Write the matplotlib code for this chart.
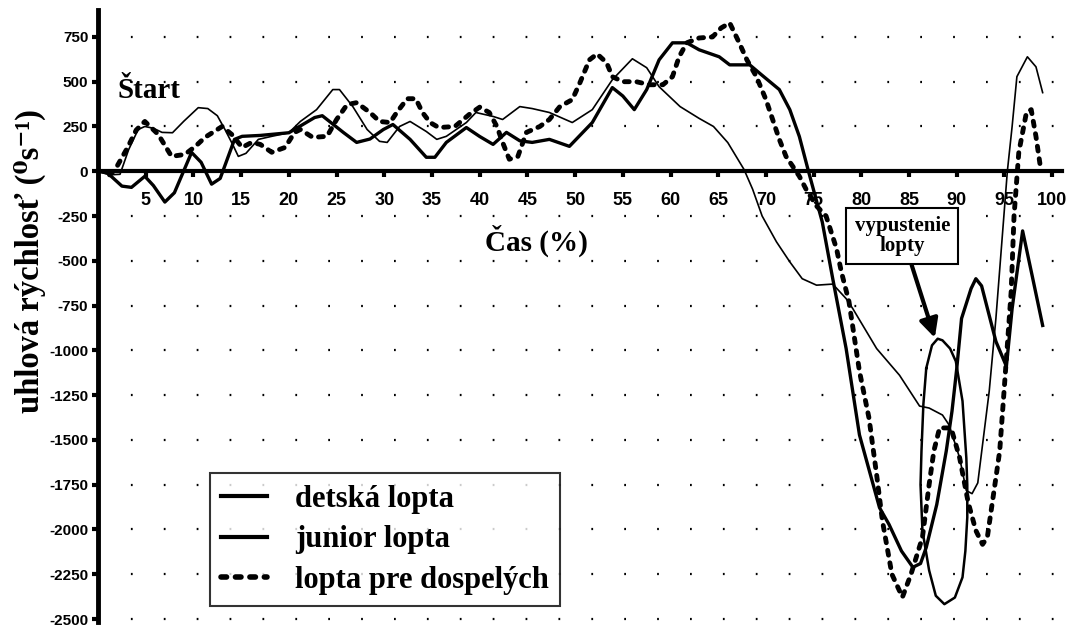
import matplotlib
matplotlib.use("Agg")
import matplotlib.pyplot as plt

# values
detska_x = [0, 1.2, 2.3, 3.2, 4.2, 4.9, 5.8, 6.7, 7.8, 9.0, 10.5, 11.5, 12.5, 13.3, 14.1, 14.7, 15.5, 16.8, 18.2, 20.0,
            21.2, 22.9, 24.6, 25.3, 26.7, 28.2, 29.5, 30.3, 31.6, 32.7, 34.4, 35.5, 36.5, 38.6, 39.6, 41.4, 42.4, 44.2,
            45.5, 47.3, 49.7, 51.8, 53.9, 56.0, 57.5, 58.8, 61.0, 63.0, 64.5, 66.0, 67.7, 68.6, 69.6, 71.1, 72.5, 73.8,
            75.3, 77.0, 78.4, 79.1, 81.6, 84.0, 86.1, 87.1, 88.5, 89.2, 90.3, 91.0, 91.6, 92.2, 93.4, 94.1, 95.3, 95.8,
            96.3, 97.4, 98.3, 99.0]
detska_y = [0, -20, -17, 120, 233, 250, 240, 217, 215, 280, 355, 350, 310, 233, 150, 83, 100, 178, 195, 215,
            278, 344, 456, 456, 361, 233, 167, 161, 250, 278, 222, 178, 195, 272, 328, 306, 289, 361,
            350, 328, 272, 344, 511, 628, 578, 472, 361, 295, 250, 160, 10, -100, -250, -394, -506, -600,
            -636, -630, -711, -767, -990, -1139, -1311, -1322, -1361, -1417, -1600, -1783, -1800, -1740, -1228, -822, 0, 250,
            528, 639, 583, 439]

junior_x = [0, 1.0, 2.5, 3.5, 4.9, 5.8, 7.0, 8.0, 9.8, 10.8, 11.9, 12.8, 14.3, 15.1, 17.0, 20.0, 22.7, 23.5, 25.7, 27.1,
            28.5, 29.9, 30.9, 32.7, 34.4, 35.3, 36.5, 38.6, 40.0, 41.4, 42.8, 44.2, 45.5, 47.3, 49.4, 51.8, 53.9, 55.0,
            56.2, 57.5, 58.8, 60.2, 61.7, 63.0, 65.1, 66.2, 68.3, 69.5, 71.4, 72.5, 73.5, 74.4, 75.9, 77.0, 78.4, 79.8,
            81.9, 82.9, 84.2, 85.4, 86.2, 86.8, 87.9, 88.9, 89.5, 90.0, 90.5, 91.5, 92.0, 92.6, 94.1, 95.2, 95.8, 96.9,
            97.9, 99.0]
junior_y = [0, -10, -83, -90, -28, -80, -172, -120, 105, 50, -72, -40, 178, 195, 200, 215, 300, 310, 217, 161,
            180, 233, 261, 178, 78, 78, 161, 244, 194, 150, 217, 170, 161, 178, 139, 272, 467, 420,
            344, 456, 622, 717, 717, 678, 639, 594, 594, 540, 456, 344, 194, 11, -283, -600, -989, -1472,
            -1878, -1972, -2120, -2211, -2190, -2100, -1861, -1561, -1339, -1100, -822, -655, -600, -640, -950, -1089, -767, -333,
            -583, -861]

dosp_x = [1.2, 1.8, 3.1, 4.0, 4.9, 6.3, 7.7, 9.1, 10.2, 11.2, 13.0, 14.0, 15.1, 16.1, 17.0, 18.2, 19.6, 20.6, 21.2, 22.5,
          24.0, 25.0, 26.1, 27.1, 28.5, 29.5, 30.6, 31.3, 32.4, 33.3, 34.0, 34.8, 35.7, 37.4, 38.9, 40.0, 41.0, 41.8,
          42.4, 43.1, 44.0, 44.9, 46.3, 47.3, 48.4, 49.7, 50.5, 51.5, 52.3, 53.3, 53.9, 55.0, 56.4, 57.8, 59.2, 60.2,
          60.9, 61.7, 63.0, 64.4, 65.3, 66.2, 67.2, 68.0, 69.0, 70.0, 70.7, 71.4, 72.1, 72.8, 73.5, 74.2, 75.3, 76.3,
          77.4, 77.9, 78.7, 79.8, 80.8, 81.6, 82.2, 83.2, 84.3, 85.2, 86.4, 87.1, 87.6, 88.2, 89.4, 90.3, 91.2, 92.0,
          92.7, 93.2, 94.1, 94.5, 95.0, 95.7, 96.0, 96.5, 97.3, 97.8, 98.3, 98.8]
dosp_y = [-20, 10, 133, 230, 278, 206, 83, 94, 139, 189, 250, 206, 133, 161, 150, 106, 133, 217, 233, 189,
          195, 289, 372, 383, 328, 278, 272, 328, 405, 405, 328, 272, 244, 250, 317, 358, 328, 250,
          161, 67, 83, 217, 250, 289, 361, 400, 494, 622, 655, 606, 528, 500, 500, 483, 483, 528,
          639, 717, 744, 750, 800, 828, 717, 622, 528, 400, 289, 178, 83, 28, -28, -100, -194, -250,
          -433, -561, -728, -1117, -1378, -1695, -1950, -2250, -2378, -2250, -2044, -1750, -1561, -1433, -1433, -1600, -1850, -2006,
          -2083, -2044, -1711, -1561, -1194, -672, -250, 106, 328, 344, 194, 11]

# loop traced near ball release (no legend entry)
loop_x = [86.8, 87.4, 88.0, 88.5, 89.3, 89.9, 90.6, 91.0, 91.1, 91.1, 90.9, 90.6, 89.8, 88.7, 87.8, 87.1, 86.4, 86.2,
          86.3, 86.5, 86.8]
loop_y = [-1100, -972, -935, -944, -990, -1061, -1283, -1600, -1750, -1933, -2120, -2267, -2380, -2417, -2370, -2228,
          -2006, -1750, -1561, -1300, -1100]

x_ticks = list(range(5, 101, 5))
y_ticks = list(range(750, -2501, -250))

serif = ["Liberation Serif", "DejaVu Serif"]
narrow = ["Liberation Sans Narrow", "Liberation Sans", "DejaVu Sans"]

fig = plt.figure(figsize=(10.66, 6.28), dpi=100)
ax = fig.add_axes([0.092, 0.010, 0.904, 0.974])

ax.plot(detska_x, detska_y, color="black", lw=1.2, label="detská lopta", zorder=3)
ax.plot(junior_x, junior_y, color="black", lw=2.4, label="junior lopta", zorder=3)
ax.plot(dosp_x, dosp_y, color="black", lw=3.5, linestyle=(0, (1.0, 1.6)), dash_capstyle="round",
        label="lopta pre dospelých", zorder=3)
ax.plot(loop_x, loop_y, color="black", lw=1.8, zorder=3)

ax.set_xlim(0, 101)
ax.set_ylim(-2515, 900)

for s in ["top", "right"]:
    ax.spines[s].set_visible(False)
ax.spines["left"].set_linewidth(3.5)
ax.spines["bottom"].set_position(("data", 0))
ax.spines["bottom"].set_linewidth(3.0)

ax.set_xticks(x_ticks)
ax.set_xticklabels([str(v) for v in x_ticks], family=narrow, fontweight="bold", fontsize=13)
ax.set_yticks(y_ticks)
ax.set_yticklabels([str(v) for v in y_ticks], family=narrow, fontweight="bold", fontsize=11)
ax.tick_params(axis="x", direction="out", length=4, width=3, pad=11)
ax.tick_params(axis="y", direction="out", length=4, width=3, pad=3)

ax.yaxis.grid(True, color="black", lw=1.6, linestyle=(0, (0.8, 14)))
ax.set_axisbelow(True)

ax.text(2.0, 450, "Štart", family=serif, fontweight="bold", fontsize=21, va="center", ha="left")
ax.text(45.9, -389, "Čas (%)", family=serif, fontweight="bold", fontsize=21, va="center", ha="center")
fig.text(0.028, 0.585, "uhlová rýchlosť (⁰s⁻¹)", family=serif, fontweight="bold", fontsize=23.5,
         rotation=90, ha="center", va="center")

ax.annotate("vypustenie\nlopty", xy=(87.7, -930), xytext=(84.3, -361),
            family=serif, fontweight="bold", fontsize=15, ha="center", va="center", linespacing=1.0,
            bbox=dict(boxstyle="square,pad=0.4", fc="white", ec="black", lw=1.5),
            arrowprops=dict(arrowstyle="-|>", lw=3, color="black", mutation_scale=28, shrinkA=0, shrinkB=0),
            zorder=5)

leg = ax.legend(loc="lower left", bbox_to_anchor=(0.116, 0.025), borderaxespad=0, frameon=True, fancybox=False,
                prop=dict(family=serif, weight="bold", size=22), handlelength=1.5, handletextpad=0.9,
                labelspacing=0.38, borderpad=0.38)
leg.get_frame().set_edgecolor("black")
leg.get_frame().set_linewidth(1.5)
for h in leg.get_lines():
    h.set_linewidth(3.0)
leg.get_lines()[2].set_linewidth(4.0)
leg.set_zorder(6)

fig.savefig("out.png", dpi=100)
